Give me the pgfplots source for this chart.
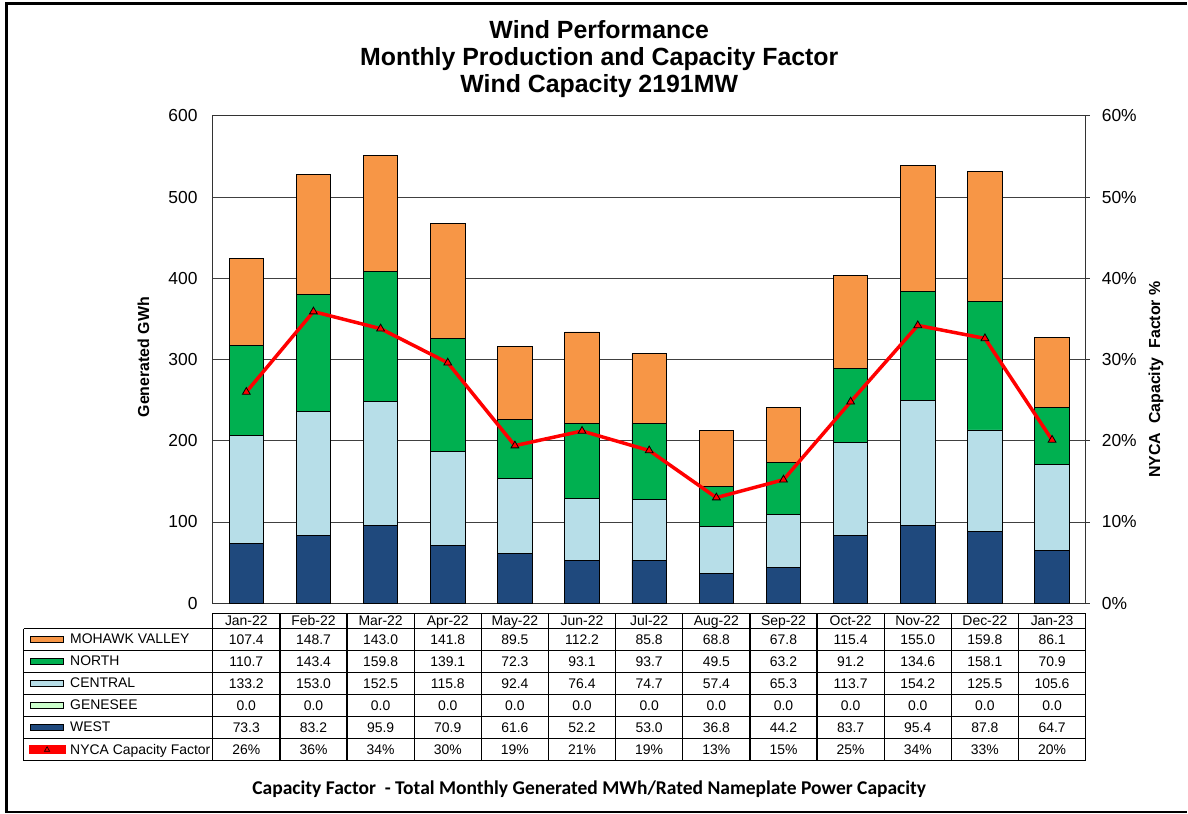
\documentclass[border=0pt]{standalone}
\usepackage{pgfplots}
\pgfplotsset{compat=1.18}
\usepackage{fontspec}
\setmainfont{Liberation Sans}
\newfontfamily\calibri{Carlito}
\definecolor{cMohawk}{HTML}{F79646}
\definecolor{cNorth}{HTML}{00B050}
\definecolor{cCentral}{HTML}{B7DEE8}
\definecolor{cGenesee}{HTML}{CCFFCC}
\definecolor{cWest}{HTML}{1F497D}
\newcommand\tbl{\fontsize{14}{16}\selectfont}
\newcommand\tck{\fontsize{17.5}{20}\selectfont}
\pgfplotsset{
  barleg/.style={legend image code/.code={\path[use as bounding box] (0bp,-3bp) rectangle (33.6bp,3bp); \draw[##1] (0bp,-3bp) rectangle (33.6bp,3bp);}},
  lineleg/.style={legend image code/.code={\path[use as bounding box] (0bp,-3bp) rectangle (33.6bp,3bp); \draw[##1, sharp plot, mark=none] (0bp,0bp) -- (33.6bp,0bp); \draw[##1, sharp plot] plot coordinates {(16.8bp,0bp)};}},
}
\begin{document}
\begin{tikzpicture}
\begin{scope}[x=1bp,y=1bp]
\path[use as bounding box] (0,0) rectangle (1188,815);
\end{scope}
\begin{axis}[at={(213bp,211bp)}, anchor=south west, scale only axis,
  width=874bp, height=488bp,
  ybar stacked, bar width=34.5bp,
  xmin=-0.5, xmax=12.5, ymin=0, ymax=600,
  ytick={0,100,...,600}, xtick=\empty,
  ymajorgrids, grid style={black!75, line width=0.9bp},
  axis line style={black!80, line width=0.9bp},
  major tick length=0pt,
  tick label style={font=\tck},
  /pgf/number format/assume math mode=true,
  yticklabel style={inner xsep=0pt, xshift=-15bp},
  ylabel={\textbf{Generated GWh}},
  every axis y label/.style={at={(axis description cs:-0.0795,0.505)}, rotate=90, anchor=center, font=\fontsize{16}{18}\selectfont},
  reverse legend, legend cell align=left,
  legend style={at={(axis description cs:-0.211,-0.0518)}, anchor=north west,
    draw=none, fill=none, inner sep=0pt, outer sep=0pt, row sep=0pt, column sep=0pt,
    nodes={font=\tbl, minimum height=22.07bp, inner ysep=0pt, inner xsep=4.6bp}},
]
\addlegendimage{lineleg, sharp plot, red, line width=3.5bp, mark=triangle*, mark size=3bp, mark options={fill=red, draw=black, line width=0.6bp}}
\addlegendentry{NYCA Capacity Factor}
\addplot[barleg, fill=cWest, draw=black, line width=0.9bp] coordinates {
 (0,73.3) (1,83.2) (2,95.9) (3,70.9) (4,61.6) (5,52.2) (6,53.0) (7,36.8) (8,44.2) (9,83.7) (10,95.4) (11,87.8) (12,64.7)};
\addlegendentry{WEST}
\addplot[barleg, fill=cGenesee, draw=black, line width=0.9bp] coordinates {
 (0,0) (1,0) (2,0) (3,0) (4,0) (5,0) (6,0) (7,0) (8,0) (9,0) (10,0) (11,0) (12,0)};
\addlegendentry{GENESEE}
\addplot[barleg, fill=cCentral, draw=black, line width=0.9bp] coordinates {
 (0,133.2) (1,153.0) (2,152.5) (3,115.8) (4,92.4) (5,76.4) (6,74.7) (7,57.4) (8,65.3) (9,113.7) (10,154.2) (11,125.5) (12,105.6)};
\addlegendentry{CENTRAL}
\addplot[barleg, fill=cNorth, draw=black, line width=0.9bp] coordinates {
 (0,110.7) (1,143.4) (2,159.8) (3,139.1) (4,72.3) (5,93.1) (6,93.7) (7,49.5) (8,63.2) (9,91.2) (10,134.6) (11,158.1) (12,70.9)};
\addlegendentry{NORTH}
\addplot[barleg, fill=cMohawk, draw=black, line width=0.9bp] coordinates {
 (0,107.4) (1,148.7) (2,143.0) (3,141.8) (4,89.5) (5,112.2) (6,85.8) (7,68.8) (8,67.8) (9,115.4) (10,155.0) (11,159.8) (12,86.1)};
\addlegendentry{MOHAWK VALLEY}
\end{axis}
\begin{axis}[at={(213bp,211bp)}, anchor=south west, scale only axis,
  width=874bp, height=488bp,
  xmin=-0.5, xmax=12.5, ymin=0, ymax=60,
  axis y line*=right, axis x line=none,
  ytick={0,10,...,60},
  yticklabel={\pgfmathprintnumber{\tick}\%},
  tick label style={font=\tck},
  /pgf/number format/assume math mode=true,
  tick align=outside, major tick length=4bp,
  axis line style={black!80, line width=0.9bp},
  ytick style={black!80, line width=0.9bp},
  yticklabel style={inner xsep=0pt, xshift=12bp},
  ylabel={\textbf{NYCA\ \ Capacity\ \ Factor \%}},
  every axis y label/.style={at={(axis description cs:1.0807,0.459)}, rotate=90, anchor=center, font=\fontsize{16}{18}\selectfont},
]
\addplot[red, line width=3.5bp, mark=triangle*, mark size=4.5bp,
  mark options={fill=red, draw=black, line width=0.8bp}] coordinates {
 (0,26.0) (1,35.9) (2,33.8) (3,29.6) (4,19.4) (5,21.2) (6,18.8) (7,13.0) (8,15.2) (9,24.8) (10,34.2) (11,32.6) (12,20.1)};
\end{axis}
\begin{scope}[x=1bp,y=1bp]
% frame
\draw[line width=3bp] (6.5,2) -- (6.5,811.5) -- (1188,811.5);
\draw[line width=1.5bp] (5,2) -- (1188,2);
% title
\node[align=center, font=\bfseries\fontsize{25}{27}\selectfont] at (600,756)
  {Wind Performance\\Monthly Production and Capacity Factor\\Wind Capacity 2191MW};
% table grid
\foreach \i in {0,...,13} \draw[line width=1.3bp] ({213+67.2308*\i},201) -- ({213+67.2308*\i},53.3);
\draw[line width=1.3bp] (23.7,185.7) -- (23.7,53.3);
\draw[line width=1.3bp] (213,201) -- (1087,201);
\foreach \k in {0,...,6} \draw[line width=1.3bp] (23.7,{185.7-22.07*\k}) -- (1087,{185.7-22.07*\k});
% header
\foreach \m [count=\i from 0] in {Jan-22,Feb-22,Mar-22,Apr-22,May-22,Jun-22,Jul-22,Aug-22,Sep-22,Oct-22,Nov-22,Dec-22,Jan-23}
  \node[font=\tbl, anchor=base, inner sep=0pt] at ({213+67.2308*(\i+0.5)},188.4) {\m};
% values
\foreach \row [count=\k from 0] in {
 {107.4,148.7,143.0,141.8,89.5,112.2,85.8,68.8,67.8,115.4,155.0,159.8,86.1},
 {110.7,143.4,159.8,139.1,72.3,93.1,93.7,49.5,63.2,91.2,134.6,158.1,70.9},
 {133.2,153.0,152.5,115.8,92.4,76.4,74.7,57.4,65.3,113.7,154.2,125.5,105.6},
 {0.0,0.0,0.0,0.0,0.0,0.0,0.0,0.0,0.0,0.0,0.0,0.0,0.0},
 {73.3,83.2,95.9,70.9,61.6,52.2,53.0,36.8,44.2,83.7,95.4,87.8,64.7},
 {26\%,36\%,34\%,30\%,19\%,21\%,19\%,13\%,15\%,25\%,34\%,33\%,20\%}}
{
  \foreach \v [count=\i from 0] in \row
    \node[font=\tbl, anchor=base, inner sep=0pt] at ({213+67.2308*(\i+0.5)},{185.7-22.07*(\k+0.5)-5}) {\v};
}
% footnote
\node[font=\calibri\bfseries\fontsize{19.6}{22}\selectfont] at (590,25)
  {Capacity Factor\ \ - Total Monthly Generated MWh/Rated Nameplate Power Capacity};
\end{scope}
\end{tikzpicture}
\end{document}
